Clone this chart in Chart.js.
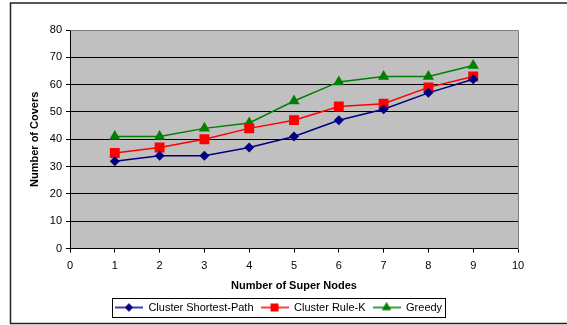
<!DOCTYPE html>
<html>
<head>
<meta charset="utf-8">
<script src="https://cdn.jsdelivr.net/npm/chart.js@4"></script>
<style>
  html, body { margin: 0; padding: 0; background: #fff; }
  #wrap { width: 567px; height: 325px; }
</style>
</head>
<body>
<div id="wrap"><canvas id="grafico" width="567" height="325"></canvas></div>
<script>
// dados
const superNodes = [1, 2, 3, 4, 5, 6, 7, 8, 9];
const shortestPath = [32, 34, 34, 37, 41, 47, 51, 57, 62];
const ruleK = [35, 37, 40, 44, 47, 52, 53, 59, 63];
const greedy = [41, 41, 44, 46, 54, 61, 63, 63, 67];
const nomesSeries = ["Cluster Shortest-Path", "Cluster Rule-K", "Greedy"];
const coresSeries = ["#000080", "#ff0000", "#008000"];
const marcadores = ["rectRot", "rect", "triangle"];
const raios = [5, 7, 6.5];

const fonte = "'Liberation Sans', Arial, sans-serif";

function pontos(valores) {
  return superNodes.map((x, i) => ({ x: x, y: valores[i] }));
}

// icone da legenda: linha com marcador no meio
function iconeLegenda(cor, estilo, raio) {
  const c = document.createElement("canvas");
  c.width = 28;
  c.height = 14;
  const ctx = c.getContext("2d");
  ctx.strokeStyle = cor;
  ctx.lineWidth = 1.5;
  ctx.beginPath();
  ctx.moveTo(0, 7);
  ctx.lineTo(28, 7);
  ctx.stroke();
  ctx.fillStyle = cor;
  Chart.helpers.drawPoint(ctx, { pointStyle: estilo, radius: raio, borderWidth: 0 }, 14, 7);
  ctx.fill();
  return c;
}

const fundo = {
  id: "fundo",
  beforeDraw(chart) {
    const { ctx, chartArea: a } = chart;
    ctx.save();
    ctx.fillStyle = "#c0c0c0";
    ctx.fillRect(a.left, a.top, a.right - a.left, a.bottom - a.top);
    ctx.restore();
  },
  afterDraw(chart) {
    const { ctx, chartArea: a, legend } = chart;
    ctx.save();
    // borda da area do grafico
    ctx.strokeStyle = "#808080";
    ctx.lineWidth = 1;
    ctx.beginPath();
    ctx.moveTo(Math.round(a.left) + 0.5, Math.round(a.top) + 0.5);
    ctx.lineTo(Math.round(a.right) + 0.5, Math.round(a.top) + 0.5);
    ctx.lineTo(Math.round(a.right) + 0.5, Math.round(a.bottom) + 0.5);
    ctx.stroke();
    // moldura externa
    ctx.strokeStyle = "#222";
    ctx.lineWidth = 1.5;
    ctx.strokeRect(10.5, 3, 570, 320.5);
    // caixa da legenda
    const caixas = legend.legendHitBoxes;
    if (caixas && caixas.length) {
      const esq = Math.min(...caixas.map(b => b.left)) - 3;
      const dir = Math.max(...caixas.map(b => b.left + b.width)) + 3;
      const topo = caixas[0].top - 4;
      const alt = caixas[0].height + 8;
      ctx.strokeStyle = "#000";
      ctx.lineWidth = 1;
      ctx.strokeRect(Math.round(esq) + 0.5, Math.round(topo) + 0.5, Math.round(dir - esq), Math.round(alt));
    }
    ctx.restore();
  }
};

const datasets = [shortestPath, ruleK, greedy].map((valores, i) => ({
  label: nomesSeries[i],
  data: pontos(valores),
  borderColor: coresSeries[i],
  backgroundColor: coresSeries[i],
  borderWidth: 1.5,
  pointStyle: marcadores[i],
  pointRadius: raios[i],
  pointBorderWidth: 0,
  pointBackgroundColor: coresSeries[i],
  tension: 0
}));

new Chart(document.getElementById("grafico"), {
  type: "line",
  data: { datasets: datasets },
  plugins: [fundo],
  options: {
    responsive: false,
    animation: false,
    layout: { padding: { left: 0, right: 10, top: 30, bottom: 2 } },
    plugins: {
      tooltip: { enabled: false },
      legend: {
        position: "bottom",
        labels: {
          font: { family: fonte, size: 11 },
          color: "#000",
          padding: 7,
          usePointStyle: true,
          pointStyleWidth: 28,
          generateLabels(chart) {
            return chart.data.datasets.map((ds, i) => ({
              text: ds.label,
              pointStyle: iconeLegenda(coresSeries[i], marcadores[i], raios[i] * 0.8),
              fillStyle: coresSeries[i],
              strokeStyle: coresSeries[i],
              lineWidth: 0,
              fontColor: "#000",
              hidden: false,
              datasetIndex: i
            }));
          }
        }
      }
    },
    scales: {
      x: {
        type: "linear",
        min: 0,
        max: 10,
        ticks: { stepSize: 1, color: "#000", font: { family: fonte, size: 11 }, padding: 7 },
        grid: { drawOnChartArea: false, drawTicks: true, tickLength: 4, color: "#000" },
        border: { color: "#000", width: 1 },
        title: {
          display: true,
          text: "Number of Super Nodes",
          color: "#000",
          font: { family: fonte, size: 11, weight: "bold" },
          padding: { top: 0, bottom: 2 }
        }
      },
      y: {
        min: 0,
        max: 80,
        ticks: { stepSize: 10, color: "#000", font: { family: fonte, size: 11 }, padding: 4 },
        grid: {
          color: ctx => (ctx.tick && ctx.tick.value === 80 ? "rgba(0,0,0,0)" : "#000"),
          tickColor: "#000",
          tickLength: 4,
          lineWidth: 1
        },
        border: { color: "#000", width: 1 },
        title: {
          display: true,
          text: "Number of Covers",
          color: "#000",
          font: { family: fonte, size: 11, weight: "bold" },
          padding: { top: 28, bottom: 0 }
        },
        afterFit(escala) { escala.width = 70; }
      },
      espaco: {
        type: "linear",
        position: "right",
        display: true,
        ticks: { display: false },
        grid: { display: false },
        border: { display: false },
        afterFit(escala) { escala.width = 39; }
      }
    }
  }
});
</script>
</body>
</html>
